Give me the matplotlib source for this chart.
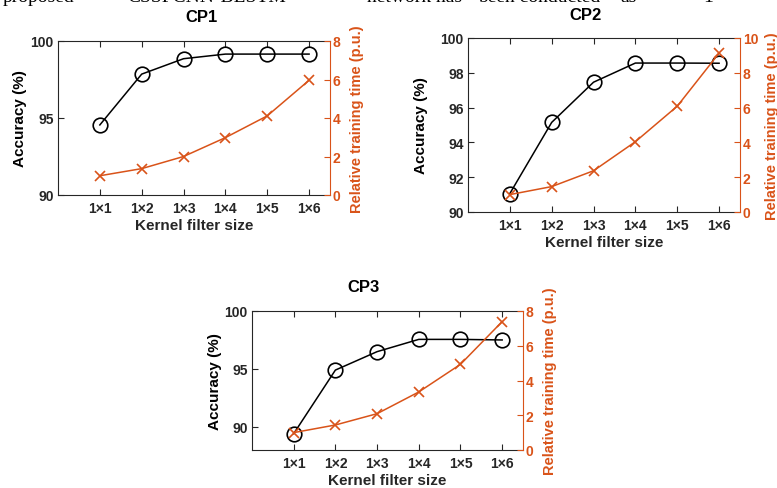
import matplotlib
matplotlib.use("Agg")
import matplotlib.pyplot as plt

# ---- data ----
categories = ['1×1', '1×2', '1×3', '1×4', '1×5', '1×6']

cp1_acc = [94.55, 97.85, 98.85, 99.15, 99.15, 99.15]
cp1_time = [1.00, 1.37, 2.00, 2.98, 4.11, 5.96]

cp2_acc = [91.06, 95.15, 97.46, 98.56, 98.56, 98.55]
cp2_time = [1.00, 1.46, 2.37, 4.04, 6.08, 9.13]

cp3_acc = [89.41, 94.90, 96.49, 97.55, 97.55, 97.50]
cp3_time = [1.00, 1.44, 2.09, 3.34, 4.93, 7.39]

titles = ['CP1', 'CP2', 'CP3']

# ---- style ----
W, H = 777, 489
plt.rcParams['font.family'] = ['Liberation Sans', 'DejaVu Sans']
plt.rcParams['font.weight'] = 'bold'
DARK = '#262626'
ORANGE = '#D95319'
GRAY = '#262626'

fig = plt.figure(figsize=(W / 100, H / 100), dpi=100)


def rect(l, t, r, b):
    return [l / W, 1 - b / H, (r - l) / W, (b - t) / H]


def panel(box, acc, rtime, acc_lim, acc_ticks, t_lim, t_ticks,
          ylab_x, rlab_x, title, title_xy):
    ax = fig.add_axes(rect(*box))
    x = list(range(1, len(categories) + 1))
    ax.plot(x, acc, color='black', lw=1.1, marker='o', ms=10.5,
            mfc='none', mec='black', mew=1.2, zorder=3)
    ax.set_xlim(0, 6.5)
    ax.set_ylim(*acc_lim)
    ax.set_yticks(acc_ticks)
    ax.set_xticks(x)
    ax.set_xticklabels(categories)
    ax.tick_params(axis='x', direction='in', length=4, width=0.8,
                   top=True, colors=GRAY, labelsize=10, pad=4)
    ax.tick_params(axis='y', direction='in', length=4, width=0.8,
                   colors=DARK, labelsize=10, pad=3)
    for lab in ax.get_xticklabels() + ax.get_yticklabels():
        lab.set_fontweight('bold')
    for s in ['left', 'bottom', 'top']:
        ax.spines[s].set_color(GRAY)
        ax.spines[s].set_linewidth(0.8)
    ax.spines['right'].set_visible(False)

    ax.set_ylabel('Accuracy (%)', fontsize=11, fontweight='bold', color='black')
    ax.yaxis.set_label_coords(ylab_x, 0.5)
    ax.yaxis.label.set_verticalalignment('center')
    ax.set_xlabel('Kernel filter size', fontsize=11, fontweight='bold', color=DARK)
    hpx = box[3] - box[1]
    ax.xaxis.set_label_coords(0.5, -30 / hpx)
    ax.xaxis.label.set_verticalalignment('center')

    ax2 = ax.twinx()
    ax2.plot(x, rtime, color=ORANGE, lw=1.1, marker='x', ms=7, mew=1.2,
             zorder=3)
    ax2.set_ylim(*t_lim)
    ax2.set_yticks(t_ticks)
    ax2.tick_params(axis='y', direction='in', length=4, width=0.8,
                    colors=ORANGE, labelsize=10, pad=2)
    for lab in ax2.get_yticklabels():
        lab.set_fontweight('bold')
    for s in ['left', 'bottom', 'top']:
        ax2.spines[s].set_visible(False)
    ax2.spines['right'].set_color(ORANGE)
    ax2.spines['right'].set_linewidth(0.8)
    ax2.set_ylabel('Relative training time (p.u.)', fontsize=10.5,
                   fontweight='bold', color=ORANGE)
    ax2.yaxis.set_label_coords(rlab_x, 0.5)
    ax2.yaxis.label.set_verticalalignment('center')

    fig.text(title_xy[0] / W, 1 - title_xy[1] / H, title, ha='center',
             va='center', fontsize=12, fontweight='bold', color='black')
    return ax, ax2


panel((58, 42, 330, 196), cp1_acc, cp1_time, (90, 100), [90, 95, 100],
      (0, 8), [0, 2, 4, 6, 8], -0.14, 1.10, titles[0], (201, 17.5))
panel((468, 39, 740, 213), cp2_acc, cp2_time, (90, 100),
      [90, 92, 94, 96, 98, 100], (0, 10), [0, 2, 4, 6, 8, 10],
      -0.173, 1.118, titles[1], (586, 16))
panel((252, 312, 523, 451), cp3_acc, cp3_time, (88, 100), [90, 95, 100],
      (0, 8), [0, 2, 4, 6, 8], -0.137, 1.10, titles[2], (364, 288))

# running text of the page above the figure, cut by the top edge
words = [("proposed", 3), ("CSSFCNN-BLSTM", 127), ("network has", 367),
         ("been conducted", 478), ("as", 620), ("1", 703), ("×", 757)]
for w, xp in words:
    fig.text(xp / W, 1 - 1.5 / H, w, ha='left', va='baseline', fontsize=14,
             family=['Liberation Serif', 'DejaVu Serif'], fontweight='normal',
             color='black')

fig.savefig('out.png', dpi=100)
